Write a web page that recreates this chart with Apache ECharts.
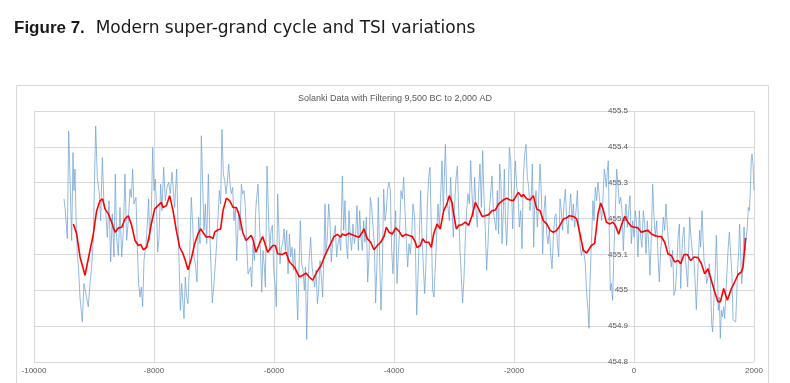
<!DOCTYPE html>
<html>
<head>
<meta charset="utf-8">
<script src="https://cdn.jsdelivr.net/npm/echarts@6/dist/echarts.min.js"></script>
<style>
html,body{margin:0;padding:0;background:#fff;}
#chart{width:790px;height:383px;}
</style>
</head>
<body>
<div id="chart"></div>
<script>
// Axis settings
var xTicks = [-10000, -8000, -6000, -4000, -2000, 0, 2000];
var yTicks = [454.8, 454.9, 455.0, 455.1, 455.2, 455.3, 455.4, 455.5];

// Raw Solanki TSI reconstruction (year, value)
var rawData = [
[-9500,455.255],[-9478,455.222],[-9445,455.144],[-9422,455.444],[-9400,455.315],[-9372,455.139],[-9350,455.384],[-9334,455.278],[-9317,455.338],[-9300,455.204],[-9278,455.102],[-9256,455.056],[-9234,454.981],[-9195,454.912],[-9167,455.019],[-9134,455.023],[-9095,454.954],[-9067,455.019],[-9039,455.065],[-9011,455.148],[-8972,455.458],[-8945,455.315],[-8911,455.269],[-8889,455.194],[-8861,455.370],[-8834,455.241],[-8806,455.222],[-8778,455.148],[-8750,455.250],[-8722,455.079],[-8695,455.213],[-8667,455.093],[-8645,455.324],[-8623,455.148],[-8595,455.097],[-8567,455.231],[-8539,455.093],[-8511,455.167],[-8484,455.324],[-8456,455.139],[-8428,455.194],[-8400,455.282],[-8378,455.259],[-8356,455.338],[-8334,455.241],[-8300,455.259],[-8278,455.120],[-8256,455.019],[-8234,454.981],[-8211,455.009],[-8189,454.954],[-8167,455.083],[-8134,455.130],[-8111,455.185],[-8089,455.255],
[-8072,455.139],[-8044,455.222],[-8022,455.398],[-8000,455.278],[-7978,455.310],[-7956,455.222],[-7939,455.106],[-7917,455.144],[-7889,455.296],[-7867,455.222],[-7839,455.343],[-7811,455.250],[-7783,455.287],[-7756,455.301],[-7728,455.269],[-7700,455.329],[-7678,455.333],[-7656,455.231],[-7622,455.338],[-7600,455.185],[-7578,455.056],[-7561,454.944],[-7539,455.019],[-7517,454.963],[-7500,454.921],[-7478,455.037],[-7456,454.981],[-7433,454.963],[-7411,455.065],[-7378,455.259],[-7356,455.185],[-7333,455.093],[-7311,455.074],[-7283,455.023],[-7256,455.204],[-7233,455.130],[-7211,455.431],[-7189,455.296],[-7167,455.167],[-7144,455.241],[-7122,455.130],[-7094,455.324],[-7072,455.167],[-7050,455.065],[-7028,454.965],[-7000,455.019],[-6978,455.074],[-6956,455.130],[-6933,455.204],[-6911,455.278],[-6889,455.241],[-6867,455.449],[-6844,455.324],[-6822,455.306],[-6800,455.269],[-6778,455.301],[-6756,455.352],[-6733,455.296],[-6711,455.269],[-6689,455.287],[-6667,455.194],[-6644,455.231],[-6622,455.083],
[-6589,455.222],[-6566,455.167],[-6544,455.296],[-6522,455.269],[-6500,455.278],[-6477,455.231],[-6455,455.130],[-6433,455.046],[-6411,455.042],[-6389,455.065],[-6372,455.009],[-6350,455.130],[-6327,455.083],[-6305,455.222],[-6289,455.259],[-6266,455.296],[-6244,455.194],[-6222,455.093],[-6205,454.995],[-6183,455.111],[-6161,455.065],[-6144,455.009],[-6116,455.347],[-6094,455.222],[-6072,455.111],[-6050,455.167],[-6027,455.181],[-6005,455.056],[-5983,455.019],[-5961,454.954],[-5939,455.269],[-5922,455.273],[-5900,455.074],[-5877,455.120],[-5855,455.130],[-5833,455.171],[-5811,455.111],[-5789,455.167],[-5766,455.046],[-5744,455.157],[-5722,455.093],[-5700,455.120],[-5677,455.056],[-5655,455.116],[-5633,455.037],[-5605,454.917],[-5583,455.065],[-5561,455.194],[-5539,455.074],[-5516,455.056],[-5494,455.000],[-5477,455.065],[-5455,454.863],[-5433,455.019],[-5411,455.093],[-5389,455.148],[-5366,455.065],[-5344,455.037],[-5322,455.009],[-5300,455.056],[-5277,454.963],[-5255,455.000],[-5233,455.083],[-5211,455.037],[-5189,454.981],[-5166,455.111],[-5150,455.241],
[-5134,455.102],[-5111,455.148],[-5089,455.241],[-5067,455.194],[-5045,455.079],[-5023,455.130],[-5000,455.157],[-4978,455.181],[-4956,455.093],[-4934,455.130],[-4911,455.148],[-4889,455.111],[-4861,455.319],[-4839,455.167],[-4817,455.250],[-4795,455.130],[-4772,455.088],[-4750,455.222],[-4728,455.148],[-4706,455.111],[-4684,455.185],[-4661,455.130],[-4639,455.157],[-4617,455.236],[-4595,455.111],[-4572,455.222],[-4550,455.148],[-4528,455.111],[-4506,455.194],[-4484,455.134],[-4461,455.204],[-4439,455.023],[-4417,455.093],[-4395,455.259],[-4372,455.231],[-4350,455.176],[-4328,455.130],[-4306,454.965],[-4284,455.074],[-4261,455.259],[-4239,455.083],[-4217,454.944],[-4195,455.056],[-4172,455.282],[-4150,455.194],[-4128,455.222],[-4106,455.282],[-4084,455.301],[-4061,455.278],[-4039,455.111],[-4017,455.046],[-3995,455.148],[-3972,455.222],[-3950,455.019],[-3928,455.102],[-3906,455.167],[-3884,455.278],[-3861,455.255],[-3839,455.315],[-3817,455.222],[-3795,455.139],[-3772,455.065],[-3750,455.130],[-3728,455.102],[-3706,455.148],[-3684,455.241],
[-3656,455.204],[-3639,455.083],[-3622,454.931],[-3600,455.037],[-3578,455.148],[-3556,455.278],[-3533,455.148],[-3511,455.065],[-3489,454.991],[-3467,455.074],[-3444,455.241],[-3422,455.315],[-3400,455.343],[-3378,455.176],[-3356,455.000],[-3333,454.981],[-3311,455.065],[-3289,455.157],[-3267,455.241],[-3244,455.176],[-3222,455.269],[-3200,455.361],[-3178,455.222],[-3161,455.315],[-3144,455.407],[-3122,455.269],[-3100,455.231],[-3078,455.194],[-3056,455.315],[-3033,455.222],[-3011,455.148],[-2989,455.241],[-2967,455.310],[-2944,455.347],[-2922,455.222],[-2900,455.111],[-2878,455.037],[-2856,454.965],[-2833,455.037],[-2811,455.148],[-2789,455.222],[-2767,455.269],[-2744,455.241],[-2722,455.361],[-2700,455.269],[-2678,455.204],[-2656,455.315],[-2633,455.222],[-2611,455.176],[-2589,455.278],[-2567,455.352],[-2544,455.231],[-2522,455.389],[-2500,455.259],[-2478,455.167],[-2456,455.056],[-2433,455.130],[-2411,455.222],[-2389,455.269],[-2367,455.319],[-2344,455.222],[-2322,455.194],[-2300,455.167],[-2278,455.278],[-2256,455.157],[-2239,455.352],[-2217,455.301],
[-2200,455.130],[-2177,455.222],[-2161,455.338],[-2144,455.204],[-2122,455.125],[-2100,455.222],[-2077,455.398],[-2055,455.361],[-2039,455.269],[-2022,455.171],[-2000,455.278],[-1977,455.361],[-1955,455.287],[-1933,455.269],[-1911,455.176],[-1889,455.222],[-1866,455.116],[-1844,455.315],[-1822,455.380],[-1800,455.407],[-1777,455.315],[-1755,455.287],[-1733,455.222],[-1711,455.269],[-1694,455.352],[-1672,455.120],[-1655,455.241],[-1633,455.278],[-1611,455.176],[-1589,455.250],[-1566,455.352],[-1544,455.269],[-1522,455.102],[-1500,455.222],[-1478,455.264],[-1455,455.157],[-1433,455.130],[-1411,455.167],[-1389,455.102],[-1366,455.060],[-1344,455.148],[-1322,455.204],[-1300,455.213],[-1277,455.130],[-1255,455.093],[-1233,455.255],[-1211,455.222],[-1189,455.167],[-1166,455.241],[-1144,455.282],[-1122,455.194],[-1100,455.157],[-1077,455.222],[-1055,455.269],[-1033,455.194],[-1011,455.241],[-989,455.176],[-966,455.222],[-944,455.278],[-922,455.176],[-900,455.130],[-877,455.097],[-855,455.120],[-833,455.102],[-811,455.074],[-789,454.991],[-766,454.944],[-750,454.894],
[-734,455.019],[-717,455.102],[-700,455.176],[-684,455.250],[-667,455.194],[-645,455.287],[-623,455.250],[-600,455.301],[-578,455.306],[-561,455.231],[-539,455.194],[-517,455.255],[-495,455.338],[-478,455.315],[-461,455.287],[-445,455.333],[-428,455.361],[-411,455.148],[-395,455.000],[-378,455.019],[-356,454.972],[-334,455.111],[-311,455.222],[-289,455.338],[-267,455.296],[-245,455.241],[-222,455.259],[-200,455.222],[-178,455.111],[-156,455.194],[-134,455.241],[-111,455.176],[-89,455.222],[-67,455.264],[-45,455.130],[-22,455.194],[0,455.148],[22,455.222],[44,455.185],[66,455.093],[89,455.222],[111,455.148],[133,455.120],[155,455.222],[178,455.185],[200,455.102],[222,455.194],[244,455.130],[266,455.042],[289,455.148],[311,455.296],[333,455.204],[355,455.148],[378,455.194],[400,455.093],[422,455.023],[444,455.111],[466,455.148],[489,455.204],[511,455.167],[533,455.241],[555,455.176],[578,455.130],[600,455.093],[622,455.065],[644,455.111],[666,454.986],[689,455.000],[711,455.056],
[734,455.148],[756,455.185],[778,455.005],[795,455.093],[811,455.148],[834,455.176],[850,455.102],[873,455.056],[895,455.009],[911,455.111],[928,455.204],[945,455.157],[961,455.130],[978,455.093],[1000,455.083],[1023,455.009],[1039,454.946],[1056,455.019],[1078,455.111],[1095,455.167],[1111,455.120],[1134,455.222],[1150,455.148],[1167,455.083],[1189,455.065],[1211,455.019],[1234,455.037],[1256,455.074],[1278,455.009],[1295,454.907],[1311,454.884],[1334,454.981],[1356,455.065],[1372,455.153],[1389,455.056],[1406,454.944],[1422,454.981],[1439,454.866],[1456,454.944],[1473,454.926],[1495,454.954],[1511,454.921],[1528,454.981],[1545,455.037],[1567,455.111],[1589,455.162],[1611,455.102],[1634,455.037],[1650,454.917],[1673,454.912],[1695,454.912],[1711,454.981],[1728,455.065],[1745,455.111],[1761,455.185],[1778,455.102],[1795,455.019],[1811,455.056],[1834,455.176],[1850,455.111],[1867,455.139],[1889,455.176],[1906,455.231],[1923,455.222],[1939,455.278],[1956,455.370],[1967,455.380],[1984,455.352],[2000,455.278]
];

// Filtered series (year, value)
var filteredData = [
[-9344,455.185],[-9289,455.157],[-9233,455.093],[-9150,455.042],[-9067,455.111],[-9011,455.157],[-8956,455.222],[-8900,455.250],[-8856,455.255],[-8817,455.227],[-8761,455.213],[-8706,455.190],[-8650,455.162],[-8594,455.174],[-8539,455.176],[-8483,455.199],[-8428,455.208],[-8372,455.181],[-8317,455.139],[-8261,455.125],[-8222,455.128],[-8178,455.113],[-8122,455.120],[-8089,455.145],[-8044,455.185],
[-7989,455.227],[-7933,455.236],[-7878,455.245],[-7850,455.231],[-7794,455.236],[-7739,455.264],[-7683,455.222],[-7628,455.167],[-7572,455.120],[-7517,455.102],[-7478,455.083],[-7433,455.057],[-7378,455.088],[-7322,455.130],[-7267,455.157],[-7222,455.171],[-7183,455.162],[-7128,455.148],[-7072,455.150],[-7017,455.144],[-6989,455.162],[-6933,455.169],[-6889,455.171],[-6850,455.222],[-6794,455.257],[-6739,455.250],[-6683,455.231],[-6628,455.231],
[-6577,455.208],[-6522,455.162],[-6466,455.139],[-6439,455.139],[-6383,455.153],[-6355,455.144],[-6300,455.106],[-6272,455.106],[-6244,455.130],[-6189,455.150],[-6161,455.153],[-6105,455.106],[-6077,455.111],[-6022,455.125],[-5977,455.125],[-5939,455.102],[-5855,455.100],[-5800,455.106],[-5744,455.079],[-5661,455.065],[-5577,455.037],[-5522,455.042],[-5466,455.048],[-5411,455.037],[-5355,455.028],[-5327,455.023],[-5288,455.051],[-5216,455.069],[-5161,455.093],
[-5111,455.111],[-5056,455.130],[-5000,455.150],[-4945,455.156],[-4889,455.148],[-4861,455.157],[-4806,455.153],[-4750,455.159],[-4667,455.153],[-4583,455.148],[-4528,455.162],[-4500,455.171],[-4445,455.144],[-4389,455.134],[-4334,455.113],[-4278,455.125],[-4222,455.134],[-4167,455.150],[-4128,455.176],[-4084,455.162],[-4028,455.157],[-3972,455.174],[-3917,455.165],[-3861,455.150],[-3806,455.156],[-3750,455.153],[-3695,455.150],
[-3644,455.134],[-3617,455.119],[-3561,455.125],[-3522,455.144],[-3478,455.134],[-3422,455.134],[-3378,455.120],[-3339,455.157],[-3283,455.185],[-3228,455.171],[-3172,455.222],[-3117,455.241],[-3078,455.264],[-3033,455.245],[-3006,455.213],[-2961,455.171],[-2922,455.181],[-2867,455.183],[-2811,455.190],[-2756,455.181],[-2700,455.208],[-2644,455.245],[-2589,455.227],[-2533,455.206],[-2478,455.208],[-2422,455.211],[-2367,455.222],[-2311,455.224],[-2256,455.241],
[-2177,455.252],[-2122,455.257],[-2066,455.252],[-2011,455.250],[-1983,455.245],[-1928,455.273],[-1872,455.261],[-1844,455.267],[-1789,455.255],[-1733,455.252],[-1677,455.264],[-1622,455.227],[-1566,455.222],[-1511,455.194],[-1455,455.185],[-1400,455.167],[-1344,455.162],[-1289,455.167],[-1233,455.181],[-1177,455.199],[-1122,455.202],[-1077,455.208],[-1011,455.206],[-955,455.199],[-900,455.157],[-844,455.111],[-789,455.104],
[-711,455.125],[-656,455.131],[-600,455.213],[-556,455.243],[-517,455.227],[-461,455.190],[-406,455.185],[-350,455.190],[-311,455.181],[-256,455.156],[-211,455.181],[-156,455.206],[-100,455.190],[-45,455.178],[11,455.176],[66,455.174],[122,455.162],[177,455.165],[233,455.167],[289,455.157],[344,455.153],[400,455.150],[455,455.150],[511,455.134],[566,455.102],[622,455.097],[677,455.079],
[734,455.083],[778,455.074],[834,455.100],[889,455.100],[945,455.083],[1000,455.093],[1067,455.091],[1123,455.074],[1178,455.046],[1234,455.060],[1289,455.028],[1345,454.995],[1400,454.968],[1439,454.968],[1495,455.005],[1556,454.972],[1623,455.005],[1678,455.023],[1734,455.044],[1789,455.051],[1817,455.065],[1861,455.146]
];

var chart = echarts.init(document.getElementById('chart'), null, {renderer: 'canvas'});
var FONT = '"Liberation Sans", Arial, sans-serif';
var gridLeft = 34, gridRight = 36;
var plotWidth = 790 - gridLeft - gridRight;
// y axis sits at x = 0 on the year axis
var yAxisOffset = -plotWidth * (0 - xTicks[0]) / (xTicks[xTicks.length - 1] - xTicks[0]);
chart.setOption({
  animation: false,
  backgroundColor: '#ffffff',
  title: [{
    text: '{b|Figure 7.}{n|  Modern super-grand cycle and TSI variations}',
    left: 14, top: 20, padding: 0,
    textStyle: {
      rich: {
        b: {fontSize: 17, fontWeight: 'bold', color: '#1a1a1a', fontFamily: FONT},
        n: {fontSize: 17, fontWeight: 'normal', color: '#1a1a1a', fontFamily: '"DejaVu Sans", sans-serif'}
      }
    }
  }, {
    text: 'Solanki Data with Filtering 9,500 BC to 2,000 AD',
    left: 'center', top: 89,
    textStyle: {fontSize: 9, fontWeight: 'normal', color: '#595959', fontFamily: FONT}
  }],
  graphic: [{
    type: 'rect', silent: true, z: -1,
    shape: {x: 16.5, y: 85.5, width: 752, height: 320},
    style: {fill: 'none', stroke: '#d9d9d9', lineWidth: 1}
  }],
  grid: {left: gridLeft, right: gridRight, top: 111, bottom: 21, containLabel: false},
  xAxis: {
    type: 'value',
    min: xTicks[0], max: xTicks[xTicks.length - 1], interval: 2000,
    axisLine: {show: false, onZero: false},
    axisTick: {show: false},
    axisLabel: {fontSize: 8, color: '#595959', margin: 5, fontFamily: FONT,
      formatter: function (v) { return String(v); }},
    splitLine: {show: true, lineStyle: {color: '#d9d9d9', width: 1}}
  },
  yAxis: {
    type: 'value', position: 'left', offset: yAxisOffset,
    min: yTicks[0], max: yTicks[yTicks.length - 1], interval: 0.1,
    axisLine: {show: false, onZero: false},
    axisTick: {show: false},
    axisLabel: {fontSize: 8, color: '#595959', margin: 6, fontFamily: FONT,
      formatter: function (v) { return String(Math.round(v * 10) / 10); }},
    splitLine: {show: true, lineStyle: {color: '#d9d9d9', width: 1}}
  },
  series: [{
    type: 'line', data: rawData, showSymbol: false, symbol: 'none',
    lineStyle: {color: '#6fa3d6', width: 1, opacity: 0.75}, z: 2
  }, {
    type: 'line', data: filteredData, showSymbol: false, symbol: 'none',
    lineStyle: {color: '#ff0000', width: 1.6}, z: 3
  }]
});
</script>
</body>
</html>
